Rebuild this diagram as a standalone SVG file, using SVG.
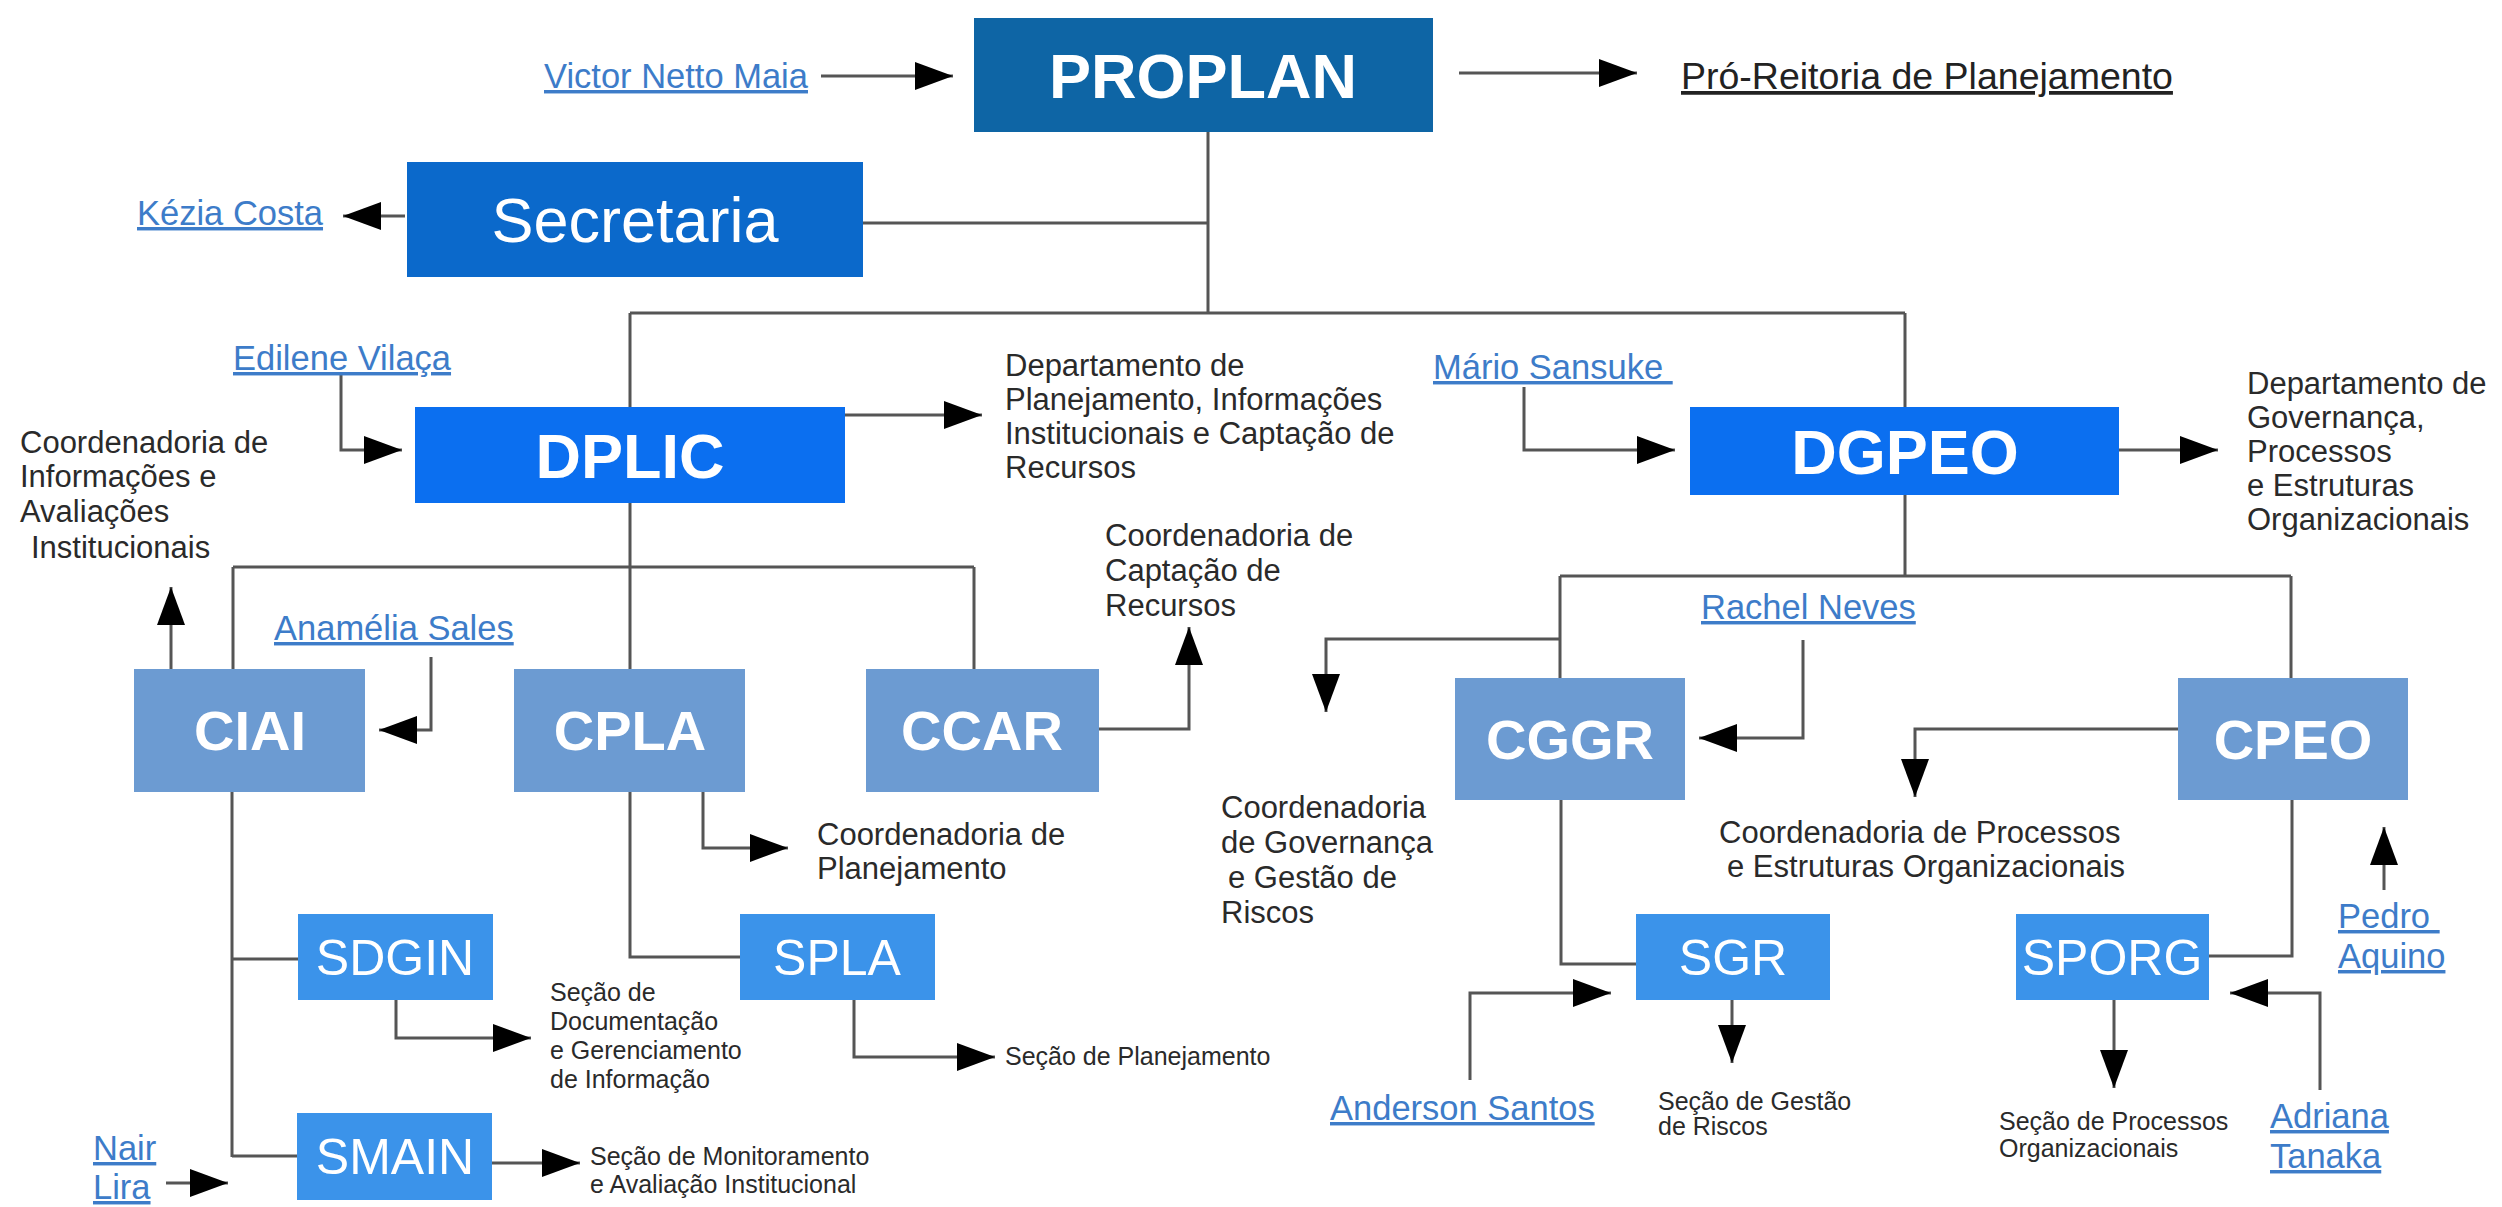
<svg xmlns="http://www.w3.org/2000/svg" width="2502" height="1207" viewBox="0 0 2502 1207">
<defs>
<marker id="ah" markerUnits="userSpaceOnUse" markerWidth="38" markerHeight="28" refX="38" refY="14" orient="auto">
<path d="M0,0 L38,14 L0,28 z" fill="#000"/>
</marker>
<style>
text{font-family:"Liberation Sans",Arial,sans-serif}
.bl{fill:#fff;text-anchor:middle}
.b1{font-size:63px;font-weight:bold}
.b2{font-size:56px;font-weight:bold}
.b3{font-size:50px}
.lk{fill:#3d7cc9;font-size:34.5px;text-decoration:underline}
.ds{fill:#2a2a2a;font-size:31px}
.sm{fill:#2a2a2a;font-size:25px}
.c{fill:none;stroke:#555;stroke-width:3}
.a{fill:none;stroke:#555;stroke-width:3;marker-end:url(#ah)}
</style>
</defs>
<rect width="2502" height="1207" fill="#fff"/>

<g id="connectors">
<path class="a" d="M821,76 H953"/>
<path class="a" d="M1459,73 H1637"/>
<path class="a" d="M405,216 H343"/>
<path class="c" d="M1208,132 V313 M863,223 H1208 M630,313 H1905 M630,313 V407 M1905,313 V407"/>
<path class="a" d="M341,375 V450 H402"/>
<path class="a" d="M845,415 H982"/>
<path class="c" d="M630,503 V669 M233,567 H974 M233,567 V669 M974,567 V669"/>
<path class="a" d="M171,669 V587"/>
<path class="a" d="M431,657 V730 H379"/>
<path class="a" d="M1099,729 H1189 V627"/>
<path class="a" d="M1524,387 V450 H1675"/>
<path class="a" d="M2119,450 H2218"/>
<path class="c" d="M1905,495 V576 M1560,576 H2291 M1560,576 V678 M2291,576 V678"/>
<path class="a" d="M1560,639 H1326 V712"/>
<path class="a" d="M1803,640 V738 H1699"/>
<path class="a" d="M2178,729 H1915 V797"/>
<path class="c" d="M232,792 V1157 M232,959 H298 M232,1156 H297"/>
<path class="c" d="M630,792 V957 H740"/>
<path class="a" d="M703,792 V848 H788"/>
<path class="a" d="M396,1000 V1038 H531"/>
<path class="a" d="M492,1163 H580"/>
<path class="a" d="M166,1183 H228"/>
<path class="a" d="M854,1000 V1057 H995"/>
<path class="c" d="M1561,800 V964 H1636"/>
<path class="a" d="M1470,1080 V993 H1611"/>
<path class="a" d="M1732,1000 V1063"/>
<path class="c" d="M2292,800 V956 H2209"/>
<path class="a" d="M2114,1000 V1088"/>
<path class="a" d="M2320,1090 V993 H2230"/>
<path class="a" d="M2384,890 V827"/>
</g>

<g id="PROPLAN"><rect x="974" y="18" width="459" height="114" fill="#0e65a5"/><text class="bl b1" x="1203" y="98">PROPLAN</text></g>
<g id="Secretaria"><rect x="407" y="162" width="456" height="115" fill="#0b69cb"/><text class="bl" style="font-size:63px" x="635" y="242">Secretaria</text></g>
<g id="DPLIC"><rect x="415" y="407" width="430" height="96" fill="#0b6ff0"/><text class="bl b1" x="630" y="478">DPLIC</text></g>
<g id="DGPEO"><rect x="1690" y="407" width="429" height="88" fill="#0b6ff0"/><text class="bl b1" x="1905" y="474">DGPEO</text></g>
<g id="CIAI"><rect x="134" y="669" width="231" height="123" fill="#6c9bd2"/><text class="bl b2" x="250" y="750">CIAI</text></g>
<g id="CPLA"><rect x="514" y="669" width="231" height="123" fill="#6c9bd2"/><text class="bl b2" x="630" y="750">CPLA</text></g>
<g id="CCAR"><rect x="866" y="669" width="233" height="123" fill="#6c9bd2"/><text class="bl b2" x="982" y="750">CCAR</text></g>
<g id="CGGR"><rect x="1455" y="678" width="230" height="122" fill="#6c9bd2"/><text class="bl b2" x="1570" y="759">CGGR</text></g>
<g id="CPEO"><rect x="2178" y="678" width="230" height="122" fill="#6c9bd2"/><text class="bl b2" x="2293" y="759">CPEO</text></g>
<g id="SDGIN"><rect x="298" y="914" width="195" height="86" fill="#3b93ea"/><text class="bl b3" x="395" y="975">SDGIN</text></g>
<g id="SPLA"><rect x="740" y="914" width="195" height="86" fill="#3b93ea"/><text class="bl b3" x="837" y="975">SPLA</text></g>
<g id="SMAIN"><rect x="297" y="1113" width="195" height="87" fill="#3b93ea"/><text class="bl b3" x="395" y="1174">SMAIN</text></g>
<g id="SGR"><rect x="1636" y="914" width="194" height="86" fill="#3b93ea"/><text class="bl b3" x="1733" y="975">SGR</text></g>
<g id="SPORG"><rect x="2016" y="914" width="193" height="86" fill="#3b93ea"/><text class="bl b3" x="2112" y="975">SPORG</text></g>

<g id="labels">
<text class="lk" x="544" y="88">Victor Netto Maia</text>
<text x="1681" y="89" style="font-size:37.5px;fill:#222;text-decoration:underline">Pró-Reitoria de Planejamento</text>
<text class="lk" x="137" y="225">Kézia Costa</text>
<text class="lk" x="233" y="370">Edilene Vilaça</text>
<text class="lk" x="1433" y="379" xml:space="preserve">Mário Sansuke </text>
<text class="lk" x="274" y="640">Anamélia Sales</text>
<text class="lk" x="1701" y="619">Rachel Neves</text>
<text class="lk" x="1330" y="1120">Anderson Santos</text>
<text class="lk" x="2270" y="1128">Adriana</text>
<text class="lk" x="2270" y="1168">Tanaka</text>
<text class="lk" x="2338" y="928" xml:space="preserve">Pedro </text>
<text class="lk" x="2338" y="968">Aquino</text>
<text class="lk" x="93" y="1160">Nair</text>
<text class="lk" x="93" y="1199">Lira</text>

<text class="ds" x="20" y="453">Coordenadoria de</text>
<text class="ds" x="20" y="487">Informações e</text>
<text class="ds" x="20" y="522">Avaliações</text>
<text class="ds" x="31" y="558">Institucionais</text>

<text class="ds" x="1005" y="376">Departamento de</text>
<text class="ds" x="1005" y="410">Planejamento, Informações</text>
<text class="ds" x="1005" y="444">Institucionais e Captação de</text>
<text class="ds" x="1005" y="478">Recursos</text>

<text class="ds" x="1105" y="546">Coordenadoria de</text>
<text class="ds" x="1105" y="581">Captação de</text>
<text class="ds" x="1105" y="616">Recursos</text>

<text class="ds" x="2247" y="394">Departamento de</text>
<text class="ds" x="2247" y="428">Governança,</text>
<text class="ds" x="2247" y="462">Processos</text>
<text class="ds" x="2247" y="496">e Estruturas</text>
<text class="ds" x="2247" y="530">Organizacionais</text>

<text class="ds" x="817" y="845">Coordenadoria de</text>
<text class="ds" x="817" y="879">Planejamento</text>

<text class="ds" x="1221" y="818">Coordenadoria</text>
<text class="ds" x="1221" y="853">de Governança</text>
<text class="ds" x="1228" y="888">e Gestão de</text>
<text class="ds" x="1221" y="923">Riscos</text>

<text class="ds" x="1719" y="843">Coordenadoria de Processos</text>
<text class="ds" x="1727" y="877">e Estruturas Organizacionais</text>

<text class="sm" x="550" y="1001">Seção de</text>
<text class="sm" x="550" y="1030">Documentação</text>
<text class="sm" x="550" y="1059">e Gerenciamento</text>
<text class="sm" x="550" y="1088">de Informação</text>

<text class="sm" x="1005" y="1065">Seção de Planejamento</text>

<text class="sm" x="590" y="1165">Seção de Monitoramento</text>
<text class="sm" x="590" y="1193">e Avaliação Institucional</text>

<text class="sm" x="1658" y="1110">Seção de Gestão</text>
<text class="sm" x="1658" y="1135">de Riscos</text>

<text class="sm" x="1999" y="1130">Seção de Processos</text>
<text class="sm" x="1999" y="1157">Organizacionais</text>
</g>
</svg>
